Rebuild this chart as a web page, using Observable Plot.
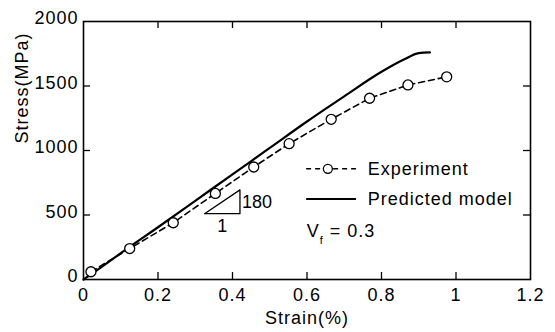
<!DOCTYPE html>
<html>
<head>
<meta charset="utf-8">
<script src="https://cdn.jsdelivr.net/npm/d3@7"></script>
<script src="https://cdn.jsdelivr.net/npm/@observablehq/plot@0.6"></script>
<style>
  html, body { margin: 0; padding: 0; background: #fff; }
  svg { font-family: "Liberation Sans", Arial, sans-serif; }
  svg text { letter-spacing: 1px; }
  svg .nosp text { letter-spacing: 0; }
</style>
</head>
<body>
<div id="chart"></div>
<script>
// Experimental points
const expStrain = [0.02, 0.124, 0.241, 0.354, 0.457, 0.552, 0.665, 0.768, 0.871, 0.975];
const expStress = [60, 240, 440, 667, 872, 1053, 1242, 1405, 1508, 1571];
// Predicted model curve
const modelStrain = [0, 0.05, 0.12, 0.2, 0.3, 0.4, 0.5, 0.6, 0.7, 0.8, 0.86, 0.9, 0.93];
const modelStress = [0, 100, 245, 405, 610, 815, 1020, 1225, 1420, 1610, 1705, 1755, 1760];
// Slope triangle (strain, stress)
const triStrain = [0.325, 0.42, 0.42, 0.325];
const triStress = [510, 510, 695, 510];
// Ticks
const xTicks = [0, 0.2, 0.4, 0.6, 0.8, 1, 1.2];
const yTicks = [0, 500, 1000, 1500, 2000];
const xLabel = "Strain(%)";
const yLabel = "Stress(MPa)";
const legendLabels = ["Experiment", "Predicted model"];

const W = 555, H = 332;
const mL = 83, mR = 25, mT = 21, mB = 53;
const fh = H - mT - mB, fw = W - mL - mR;
const tickLen = 7;

const expData = expStrain.map((x, i) => ({x, y: expStress[i]}));
const modelData = modelStrain.map((x, i) => ({x, y: modelStress[i]}));
const triData = triStrain.map((x, i) => ({x, y: triStress[i]}));
const innerX = xTicks.slice(1, -1);
const innerY = yTicks.slice(1, -1);

// legend anchor (data units)
const lgX0 = 0.599, lgX1 = 0.733, lgTx = 0.763;
const lgY1 = 858, lgY2 = 625, lgY3 = 377;

const chart = Plot.plot({
  width: W, height: H,
  marginLeft: mL, marginRight: mR, marginTop: mT, marginBottom: mB,
  style: {fontFamily: "'Liberation Sans', Arial, sans-serif", background: "#fff", color: "#000"},
  x: {domain: [0, 1.2]},
  y: {domain: [0, 2000]},
  marks: [
    Plot.axisX({ticks: xTicks, tickFormat: d => `${d}`, tickSize: 0, tickPadding: 9, fontSize: 18, label: null}),
    Plot.axisY({ticks: yTicks, tickFormat: d => `${d}`, tickSize: 0, tickPadding: 5, dy: -3, fontSize: 18, label: null}),
    // inward ticks on all four sides
    Plot.ruleX(innerX, {x: d => d, insetTop: fh - tickLen, strokeWidth: 1.3}),
    Plot.ruleX(innerX, {x: d => d, insetBottom: fh - tickLen, strokeWidth: 1.3}),
    Plot.ruleY(innerY, {y: d => d, insetRight: fw - tickLen, strokeWidth: 1.3}),
    Plot.ruleY(innerY, {y: d => d, insetLeft: fw - tickLen, strokeWidth: 1.3}),
    Plot.frame({strokeWidth: 1.6}),
    // axis titles
    Plot.text([xLabel], {frameAnchor: "bottom", dy: 39, fontSize: 18, text: d => d, lineAnchor: "middle"}),
    Plot.text([yLabel], {frameAnchor: "left", dx: -61, dy: -7, rotate: -90, fontSize: 18, text: d => d, lineAnchor: "middle"}),
    // predicted model
    Plot.line(modelData, {x: "x", y: "y", stroke: "#000", strokeWidth: 2.2, curve: "monotone-x"}),
    // experiment
    Plot.line(expData, {x: "x", y: "y", stroke: "#000", strokeWidth: 1.6, strokeDasharray: "6,4"}),
    Plot.dot(expData, {x: "x", y: "y", r: 5, stroke: "#000", fill: "#fff", strokeWidth: 1.3}),
    // slope triangle
    Plot.line(triData, {x: "x", y: "y", stroke: "#000", strokeWidth: 1.3}),
    Plot.text(["180"], {x: triStrain[1], y: (triStress[0] + triStress[2]) / 2, text: d => d, textAnchor: "start", dx: 2, fontSize: 18, className: "nosp"}),
    Plot.text(["1"], {x: (triStrain[0] + triStrain[1]) / 2, y: triStress[0], text: d => d, dy: 13, fontSize: 18, className: "nosp"}),
    // legend
    Plot.ruleY([lgY1], {x1: lgX0, x2: lgX1, y: d => d, stroke: "#000", strokeWidth: 1.6, strokeDasharray: "5,4"}),
    Plot.dot([lgY1], {x: (lgX0 + lgX1) / 2 - 0.01, y: d => d, r: 4.5, stroke: "#000", fill: "#fff", strokeWidth: 1.3}),
    Plot.text([legendLabels[0]], {x: lgTx, y: lgY1, text: d => d, textAnchor: "start", fontSize: 18}),
    Plot.ruleY([lgY2], {x1: lgX0, x2: lgX1, y: d => d, stroke: "#000", strokeWidth: 2}),
    Plot.text([legendLabels[1]], {x: lgTx, y: lgY2, text: d => d, textAnchor: "start", fontSize: 18}),
    Plot.text(["V"], {x: lgX0, y: lgY3, text: d => d, textAnchor: "start", fontSize: 18}),
    Plot.text(["f"], {x: lgX0, y: lgY3, text: d => d, textAnchor: "start", dx: 13, dy: 10, fontSize: 11}),
    Plot.text(["= 0.3"], {x: lgX0, y: lgY3, text: d => d, textAnchor: "start", dx: 23, fontSize: 18})
  ]
});
document.getElementById("chart").appendChild(chart);
</script>
</body>
</html>
